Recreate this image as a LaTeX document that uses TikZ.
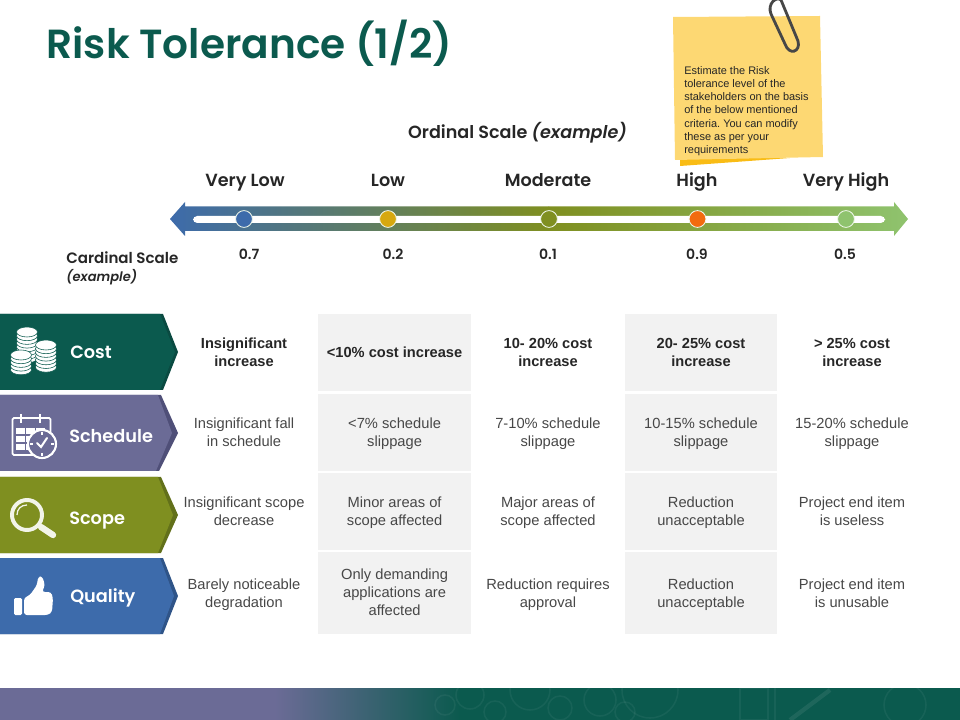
\documentclass[tikz,border=0pt]{standalone}
\usepackage{fontspec}
\setmainfont{Liberation Sans}
\newfontfamily\gothic[ItalicFont={Poppins SemiBold Italic}]{Poppins SemiBold}
\definecolor{tealc}{HTML}{0B5A4E}
\definecolor{tealdark}{HTML}{0A4A41}
\definecolor{purplec}{HTML}{6B6B96}
\definecolor{purpledark}{HTML}{4F4F78}
\definecolor{olivec}{HTML}{7F8F20}
\definecolor{olivedark}{HTML}{62701A}
\definecolor{bluec}{HTML}{3D6BAB}
\definecolor{bluedark}{HTML}{2F5488}
\definecolor{lightgreen}{HTML}{8FC36E}
\definecolor{goldc}{HTML}{D6A80F}
\definecolor{orangec}{HTML}{F26B0F}
\definecolor{cellgray}{HTML}{F2F2F2}
\definecolor{notec}{HTML}{FDD873}
\definecolor{notedark}{HTML}{F9BC15}
\definecolor{inkc}{HTML}{262626}
\newcommand{\coinstack}[4]{% x, top y, number of coins, line colour
	\foreach \i in {#3,...,0} {
		\draw[fill=white, draw=#4, line width=0.4pt] (#1, #2+\i*3.7) ellipse (10.5 and 5);
	}
}
\begin{document}
\begin{tikzpicture}[x=0.025cm, y=-0.025cm,
	basecell/.style={align=center, text=black!72, font=\fontsize{10.45}{12.8}\selectfont, minimum width=3.805cm, minimum height=1.9125cm, inner sep=0pt},
	cell/.style={basecell, text height=20.6pt, text depth=0pt},
	graycell/.style={cell, fill=cellgray},
	headcell/.style={font=\fontsize{10.4}{12.8}\selectfont\bfseries, text=inkc},
	lastrow/.style={minimum height=2.04cm},
	scalelabel/.style={anchor=base, inner sep=0pt, font=\gothic\fontsize{12.5}{15}\selectfont, text=inkc},
	scalevalue/.style={anchor=base, inner sep=0pt, font=\gothic\fontsize{10}{12}\selectfont, text=inkc},
	tablabel/.style={anchor=base west, inner sep=0pt, font=\gothic\fontsize{12.6}{14}\selectfont, text=white},
	dot/.style={circle, draw=white!85!lightgreen, line width=0.6pt, minimum size=0.42cm, inner sep=0pt}]
	\useasboundingbox (0,0) rectangle (960,720);
	% footer band
	\fill[purplec] (0,688) rectangle (276,720);
	\shade[left color=purplec, right color=tealc] (275,688) rectangle (460,720);
	\fill[tealc] (459,688) rectangle (960,720);
	\begin{scope}
		\clip (430,688) rectangle (960,720);
		\foreach \cx/\cy/\r in {445/705/10, 470/695/14, 495/712/11, 530/690/20, 560/708/12, 600/700/16, 625/712/10, 650/690/28, 905/705/21} {
			\draw[white, opacity=0.05, line width=1.1pt] (\cx,\cy) circle (\r);
		}
		\draw[white, opacity=0.05, line width=1.1pt] (740,688) rectangle (768,720);
		\draw[white, opacity=0.05, line width=1.1pt] (775,688) -- (775,720);
		\draw[white, opacity=0.08, line width=3pt] (790,720) -- (830,690);
	\end{scope}
	% title and scale
	\node[font=\gothic\fontsize{28.9}{34}\selectfont, text=tealc] (title) at (249.5,43) {Risk Tolerance (1/2)};
	\node[scalelabel] (ordinal) at (517.5,138.5) {Ordinal Scale \textit{(example)}};
	\node[scalelabel] (verylow) at (245,186.5) {Very Low};
	\node[scalelabel] (low) at (388,186.5) {Low};
	\node[scalelabel] (moderate) at (548,186.5) {Moderate};
	\node[scalelabel] (high) at (697,186.5) {High};
	\node[scalelabel] (veryhigh) at (846,186.5) {Very High};
	% arrow
	\shade[left color=bluec, right color=olivec] (170,219) -- (185,202) -- (185,206.5) -- (549,206.5) -- (549,231) -- (185,231) -- (185,236) -- cycle;
	\shade[left color=olivec, right color=lightgreen] (548.5,206.5) -- (894,206.5) -- (894,202) -- (908,219) -- (894,236) -- (894,231) -- (548.5,231) -- cycle;
	\fill[white, rounded corners=3pt] (193,216) rectangle (885,223);
	\node[dot, fill=bluec] (d1) at (244,219) {};
	\node[dot, fill=goldc] (d2) at (388,219) {};
	\node[dot, fill=olivec] (d3) at (549,219) {};
	\node[dot, fill=orangec] (d4) at (697.5,219) {};
	\node[dot, fill=lightgreen] (d5) at (846,219) {};
	\node[scalevalue] (v1) at (249,259.5) {0.7};
	\node[scalevalue] (v2) at (393,259.5) {0.2};
	\node[scalevalue] (v3) at (548,259.5) {0.1};
	\node[scalevalue] (v4) at (697,259.5) {0.9};
	\node[scalevalue] (v5) at (845,259.5) {0.5};
	\node[scalevalue, anchor=base west, font=\gothic\fontsize{10.7}{13}\selectfont] (cardinal) at (66,263.5) {Cardinal Scale};
	\node[scalevalue, anchor=base west, font=\gothic\itshape\fontsize{9.3}{12}\selectfont] (cardex) at (66,282) {(example)};
	% sticky note
	\fill[notedark] (680,158) -- (680,166) -- (790,158) -- cycle;
	\fill[notec] (673,17) -- (820,16) -- (823,157) -- (675,160) -- cycle;
	\draw[black!72, line width=2pt] (781,0) -- (798,41) .. controls (801,52) and (789,56) .. (785,44) -- (771,14) .. controls (767,4) and (776,-4) .. (781,0);
	\node[anchor=north west, align=left, inner sep=0pt, text=inkc, font=\frenchspacing\fontsize{7.8}{9.4}\selectfont] (note) at (684,66) {Estimate the Risk\\tolerance level of the\\stakeholders on the basis\\of the below mentioned\\criteria. You can modify\\these as per your\\requirements};
	% tabs
	\fill[tealdark] (0,314) -- (163,314) -- (178,352) -- (163,390) -- (0,390) -- cycle;
	\fill[tealc] (0,314) -- (160,314) -- (175,352) -- (160,390) -- (0,390) -- cycle;
	\fill[purpledark] (0,395) -- (161,395) -- (178,433) -- (159,471) -- (0,471) -- cycle;
	\fill[purplec] (0,395) -- (158,395) -- (172,433) -- (156,471) -- (0,471) -- cycle;
	\fill[olivedark] (0,477) -- (161,477) -- (178,515) -- (161,553) -- (0,553) -- cycle;
	\fill[olivec] (0,477) -- (158,477) -- (173,515) -- (158,553) -- (0,553) -- cycle;
	\fill[bluedark] (0,558) -- (163,558) -- (178,596) -- (163,634) -- (0,634) -- cycle;
	\fill[bluec] (0,558) -- (160,558) -- (174,596) -- (160,634) -- (0,634) -- cycle;
	\node[tablabel] (cost) at (70,358.5) {Cost};
	\node[tablabel] (schedule) at (69,443) {Schedule};
	\node[tablabel] (scope) at (69,524.5) {Scope};
	\node[tablabel] (quality) at (70,602) {Quality};
	% coins
	\coinstack{27}{332}{7}{tealc}
	\coinstack{46}{345}{6}{tealc}
	\coinstack{21}{355}{4}{tealc}
	% calendar
	\draw[white, line width=1.2pt, rounded corners=1pt] (12.5,418) rectangle (50.5,455);
	\draw[white, line width=1.2pt] (21,414) -- (21,423);
	\draw[white, line width=1.2pt] (40,414) -- (40,423);
	\foreach \i/\j in {16/428, 26/428, 36/428, 16/436, 26/436, 16/444, 26/444} {
		\fill[white] (\i,\j) rectangle +(8.5,6.5);
	}
	\draw[white, fill=purplec, line width=1.5pt] (42,444) circle (14);
	\draw[white, line width=1.4pt, line cap=round] (37,443) -- (41,447) -- (47,438);
	\draw[white, line width=0.8pt] (42,432) -- (42,435) (42,453) -- (42,456) (30,444) -- (33,444) (51,444) -- (54,444);
	% magnifier
	\draw[white!90!olivec, line width=2.8pt] (27,515) circle (15);
	\draw[white!90!olivec, line width=0.9pt] (17,515) .. controls (17,509) and (21,505) .. (27,505);
	\draw[white!90!olivec, line width=4.5pt, line cap=round] (41,527) -- (53,535);
	% thumb
	\fill[white, rounded corners=1pt] (14,598) rectangle (22,615);
	\fill[white, rounded corners=2pt] (24,598) -- (30,595) -- (37,585) -- (38,577) -- (42,576) -- (45,585) -- (42,592) -- (51,592) -- (53,598) -- (52,612) -- (48,615) -- (24,615) -- cycle;
	% table
	\node[cell, headcell] (c11) at (244,352.5) {Insignificant\\increase};
	\node[basecell, fill=cellgray, headcell] (c12) at (394.6,352.5) {<10\% cost increase};
	\node[cell, headcell] (c13) at (548,352.5) {10- 20\% cost\\increase};
	\node[graycell, headcell] (c14) at (701,352.5) {20- 25\% cost\\increase};
	\node[cell, headcell] (c15) at (852,352.5) {> 25\% cost\\increase};
	\node[cell] (c21) at (244,432.5) {Insignificant fall\\in schedule};
	\node[graycell] (c22) at (394.6,432.5) {<7\% schedule\\slippage};
	\node[cell] (c23) at (548,432.5) {7-10\% schedule\\slippage};
	\node[graycell] (c24) at (701,432.5) {10-15\% schedule\\slippage};
	\node[cell] (c25) at (852,432.5) {15-20\% schedule\\slippage};
	\node[cell] (c31) at (244,511.5) {Insignificant scope\\decrease};
	\node[graycell] (c32) at (394.6,511.5) {Minor areas of\\scope affected};
	\node[cell] (c33) at (548,511.5) {Major areas of\\scope affected};
	\node[graycell] (c34) at (701,511.5) {Reduction\\unacceptable};
	\node[cell] (c35) at (852,511.5) {Project end item\\is useless};
	\node[cell, lastrow] (c41) at (244,593) {Barely noticeable\\degradation};
	\node[graycell, lastrow, text height=32.4pt] (c42) at (394.6,593) {Only demanding\\applications are\\affected};
	\node[cell, lastrow] (c43) at (548,593) {Reduction requires\\approval};
	\node[graycell, lastrow] (c44) at (701,593) {Reduction\\unacceptable};
	\node[cell, lastrow] (c45) at (852,593) {Project end item\\is unusable};
\end{tikzpicture}
\end{document}
